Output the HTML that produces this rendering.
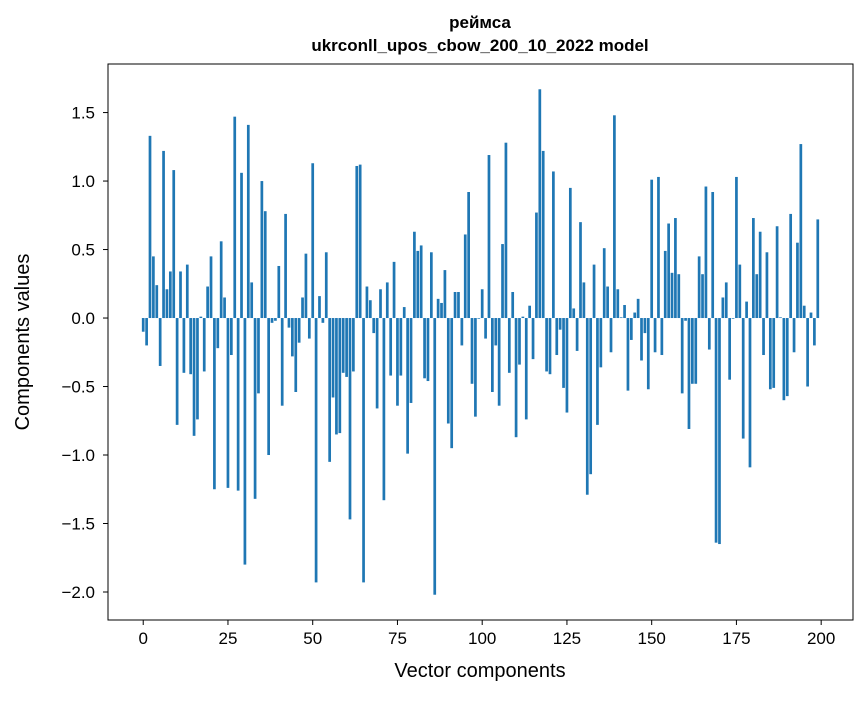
<!DOCTYPE html>
<html><head><meta charset="utf-8"><style>
body{margin:0;background:#fff;font-family:"Liberation Sans","DejaVu Sans",sans-serif;}
svg text{font-family:"Liberation Sans","DejaVu Sans",sans-serif;fill:#000;}
</style></head><body>
<svg id="chart" width="867" height="696" xmlns="http://www.w3.org/2000/svg">
<rect width="867" height="696" fill="#fff"/>
<text x="480" y="28" font-size="17" font-weight="bold" text-anchor="middle">реймса</text>
<text x="480" y="51" font-size="17" font-weight="bold" text-anchor="middle">ukrconll_upos_cbow_200_10_2022 model</text>
<g id="bars"></g>
<g id="xticks"></g>
<g id="yticks"></g>
<rect x="108" y="64" width="745" height="556" fill="none" stroke="#000" stroke-width="1"/>
<text x="480" y="677" font-size="20" text-anchor="middle">Vector components</text>
<text transform="translate(29,342) rotate(-90)" font-size="20" text-anchor="middle">Components values</text>
</svg>
<script>
const values = [
-0.10,-0.20,1.33,0.45,0.24,-0.35,1.22,0.21,0.34,1.08,
-0.78,0.34,-0.40,0.39,-0.41,-0.86,-0.74,0.01,-0.39,0.23,
0.45,-1.25,-0.22,0.56,0.15,-1.24,-0.27,1.47,-1.26,1.06,
-1.80,1.41,0.26,-1.32,-0.55,1.00,0.78,-1.00,-0.035,-0.02,
0.38,-0.64,0.76,-0.07,-0.28,-0.54,-0.18,0.15,0.47,-0.15,
1.13,-1.93,0.16,-0.035,0.48,-1.05,-0.58,-0.85,-0.84,-0.40,
-0.43,-1.47,-0.39,1.11,1.12,-1.93,0.23,0.13,-0.11,-0.66,
0.21,-1.33,0.26,-0.42,0.41,-0.64,-0.42,0.08,-0.99,-0.62,
0.63,0.49,0.53,-0.44,-0.46,0.48,-2.02,0.14,0.11,0.35,
-0.77,-0.95,0.19,0.19,-0.20,0.61,0.92,-0.48,-0.72,-0.005,
0.21,-0.15,1.19,-0.54,-0.20,-0.64,0.54,1.28,-0.40,0.19,
-0.87,-0.34,0.01,-0.74,0.09,-0.30,0.77,1.67,1.22,-0.39,
-0.41,1.07,-0.27,-0.085,-0.51,-0.69,0.95,0.07,-0.24,0.70,
0.26,-1.29,-1.14,0.39,-0.78,-0.36,0.51,0.23,-0.25,1.48,
0.21,0.005,0.095,-0.53,-0.16,0.04,0.14,-0.31,-0.11,-0.52,
1.01,-0.25,1.03,-0.27,0.49,0.69,0.33,0.73,0.32,-0.55,
-0.02,-0.81,-0.48,-0.48,0.45,0.32,0.96,-0.23,0.92,-1.64,
-1.65,0.15,0.26,-0.45,-0.005,1.03,0.39,-0.88,0.12,-1.09,
0.73,0.32,0.63,-0.27,0.48,-0.52,-0.51,0.67,0.005,-0.60,
-0.57,0.76,-0.25,0.55,1.27,0.09,-0.50,0.04,-0.20,0.72
];
const xTickValues = [0,25,50,75,100,125,150,175,200];
const yTickValues = [-2.0,-1.5,-1.0,-0.5,0.0,0.5,1.0,1.5];
const yTickLabels = ["\u22122.0","\u22121.5","\u22121.0","\u22120.5","0.0","0.5","1.0","1.5"];

const L=108,R=853,T=64,B=620;
const n=values.length;
const xmin=-0.4-(n-0.2)*0.05, xmax=(n-1)+0.4+(n-0.2)*0.05;
const vmax=Math.max(0,...values), vmin=Math.min(0,...values);
const ymin=vmin-(vmax-vmin)*0.05, ymax=vmax+(vmax-vmin)*0.05;
const xs=v=>L+(v-xmin)/(xmax-xmin)*(R-L);
const ys=v=>B-(v-ymin)/(ymax-ymin)*(B-T);
const NS="http://www.w3.org/2000/svg";
const bars=document.getElementById('bars');
values.forEach((v,i)=>{
  const r=document.createElementNS(NS,'rect');
  const x0=xs(i-0.4),x1=xs(i+0.4);
  const y0=ys(Math.max(v,0)),y1=ys(Math.min(v,0));
  r.setAttribute('x',x0);r.setAttribute('width',x1-x0);
  r.setAttribute('y',y0);r.setAttribute('height',Math.max(y1-y0,0.3));
  r.setAttribute('fill','#1f77b4');
  
  
  bars.appendChild(r);
});
const xt=document.getElementById('xticks');
xTickValues.forEach(t=>{
  const x=xs(t);
  const l=document.createElementNS(NS,'line');
  l.setAttribute('x1',x);l.setAttribute('x2',x);l.setAttribute('y1',B);l.setAttribute('y2',B+5);
  l.setAttribute('stroke','#000');
  
  
  xt.appendChild(l);
  const tx=document.createElementNS(NS,'text');
  tx.setAttribute('x',x);tx.setAttribute('y',B+24);tx.setAttribute('font-size','17');tx.setAttribute('text-anchor','middle');
  tx.textContent=String(t);
  
  
  xt.appendChild(tx);
});
const yt=document.getElementById('yticks');
yTickValues.forEach((t,i)=>{
  const y=ys(t);
  const l=document.createElementNS(NS,'line');
  l.setAttribute('x1',L-5);l.setAttribute('x2',L);l.setAttribute('y1',y);l.setAttribute('y2',y);
  l.setAttribute('stroke','#000');
  
  
  yt.appendChild(l);
  const tx=document.createElementNS(NS,'text');
  tx.setAttribute('x',L-13);tx.setAttribute('y',y+6);tx.setAttribute('font-size','17');tx.setAttribute('text-anchor','end');
  tx.textContent=yTickLabels[i];
  
  
  yt.appendChild(tx);
});
</script>
</body></html>
